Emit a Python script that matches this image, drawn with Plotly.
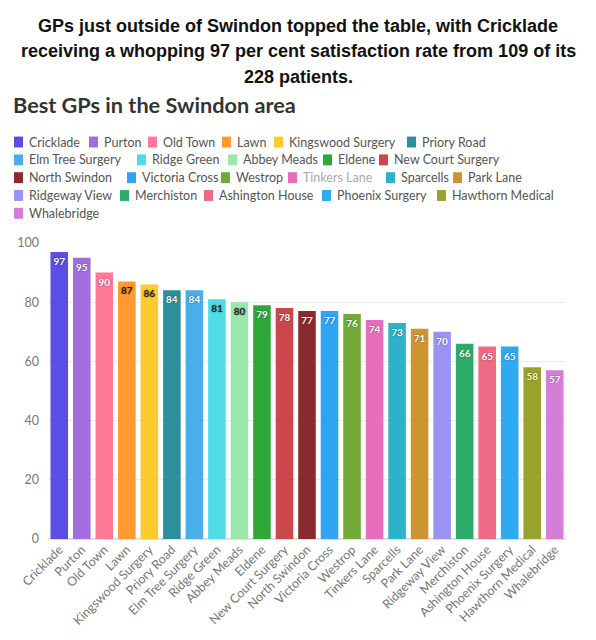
import plotly.graph_objects as go

# ---------------- data ----------------
practices = ["Cricklade", "Purton", "Old Town", "Lawn", "Kingswood Surgery", "Priory Road",
             "Elm Tree Surgery", "Ridge Green", "Abbey Meads", "Eldene", "New Court Surgery",
             "North Swindon", "Victoria Cross", "Westrop", "Tinkers Lane", "Sparcells",
             "Park Lane", "Ridgeway View", "Merchiston", "Ashington House", "Phoenix Surgery",
             "Hawthorn Medical", "Whalebridge"]
satisfaction = [97, 95, 90, 87, 86, 84, 84, 81, 80, 79, 78, 77, 77, 76, 74, 73, 71, 70, 66, 65, 65, 58, 57]
colors = ["#5a4ee6", "#a26ddf", "#ff7896", "#ff9a2e", "#ffc930", "#2e8f9c",
          "#4aaee8", "#4fdce6", "#9be8ac", "#2fa83a", "#cc474b",
          "#8a2a2c", "#30a3f5", "#72aa3a", "#ea6cbc", "#2db3c9",
          "#cc9532", "#9b93f2", "#2eaa6a", "#f06a86", "#2eaaf0",
          "#9aa22e", "#d47ed8"]
label_colors = ["white", "white", "white", "#222", "#222", "white",
                "white", "#222", "#222", "white", "white",
                "white", "white", "white", "white", "white",
                "white", "white", "white", "white", "white",
                "#fff8d0", "white"]
y_ticks = [0, 20, 40, 60, 80, 100]

# ---------------- layout geometry (pixels) ----------------
W, H = 596, 640
ML, MR, MT, MB = 48, 30, 243, 98
PW, PH = W - ML - MR, H - MT - MB

def px(x):
    return (x - ML) / PW

def py(y):
    return (H - MB - y) / PH

# legend rows: (name, square-left-x) per row, row y centres
legend_rows = [
    [("Cricklade", 14), ("Purton", 89), ("Old Town", 148), ("Lawn", 222), ("Kingswood Surgery", 274), ("Priory Road", 407)],
    [("Elm Tree Surgery", 14), ("Ridge Green", 137), ("Abbey Meads", 228), ("Eldene", 323), ("New Court Surgery", 379)],
    [("North Swindon", 14), ("Victoria Cross", 127), ("Westrop", 221), ("Tinkers Lane", 288), ("Sparcells", 386), ("Park Lane", 453)],
    [("Ridgeway View", 14), ("Merchiston", 120), ("Ashington House", 204), ("Phoenix Surgery", 322), ("Hawthorn Medical", 437)],
    [("Whalebridge", 14)],
]
legend_row_y = [141, 159, 177, 195, 213]
dimmed = {"Tinkers Lane"}

fig = go.Figure()
fig.add_trace(go.Bar(
    x=practices, y=satisfaction,
    marker=dict(color=colors, line=dict(width=0)),
    text=[str(v) for v in satisfaction],
    textposition="inside", insidetextanchor="end",
    textangle=0,
    textfont=dict(family="Lato", size=12, color=label_colors, weight="bold",
                  shadow="0px 0px 2px rgba(0,0,0,0.45)"),
    cliponaxis=False,
    showlegend=False,
    hoverinfo="x+y",
))

shapes = []
annotations = []
color_of = dict(zip(practices, colors))
for row, yc in zip(legend_rows, legend_row_y):
    for name, x0 in row:
        shapes.append(dict(type="rect", xref="paper", yref="paper",
                           x0=px(x0), x1=px(x0 + 9), y0=py(yc + 5.5), y1=py(yc - 5.5),
                           fillcolor=color_of[name], line=dict(width=0), layer="above"))
        annotations.append(dict(xref="paper", yref="paper", x=px(x0 + 12.5), y=py(yc),
                                xanchor="left", yanchor="middle", showarrow=False,
                                text=name,
                                font=dict(family="Lato", size=12.5,
                                          color="#aaaaaa" if name in dimmed else "#555555")))

title_lines = ["GPs just outside of Swindon topped the table, with Cricklade",
               "receiving a whopping 97 per cent satisfaction rate from 109 of its",
               "228 patients."]
for i, line in enumerate(title_lines):
    annotations.append(dict(xref="paper", yref="paper", x=px(W / 2), y=py(24 + 25.5 * i),
                            xanchor="center", yanchor="middle", showarrow=False,
                            text="<b>" + line + "</b>",
                            font=dict(family="Liberation Sans, Arial", size=18, color="#111")))
annotations.append(dict(xref="paper", yref="paper", x=px(11), y=py(104),
                        xanchor="left", yanchor="middle", showarrow=False,
                        text="<b>Best GPs in the Swindon area</b>",
                        font=dict(family="Lato", size=21.7, color="#333333")))

fig.update_layout(
    width=W, height=H,
    margin=dict(l=ML, r=MR, t=MT, b=MB, pad=0),
    paper_bgcolor="white", plot_bgcolor="white",
    bargap=0.22,
    shapes=shapes, annotations=annotations,
    font=dict(family="Lato", color="#666666"),
    xaxis=dict(tickangle=-45, tickfont=dict(family="Lato", size=12.5, color="#777777"),
               showgrid=False, showline=False, ticks="", range=[-0.5, len(practices) - 0.5]),
    yaxis=dict(range=[0, 100], tickvals=y_ticks, tickfont=dict(family="Lato", size=12.5, color="#777777"),
               showgrid=True, gridcolor="#ececec", gridwidth=1, zeroline=True, zerolinecolor="#e0e0e0",
               showline=False, ticks="", ticklabelstandoff=8),
)

fig.write_html("out.html", config={"displayModeBar": False},
               post_script="document.body.style.margin='0';document.body.style.padding='0';")
